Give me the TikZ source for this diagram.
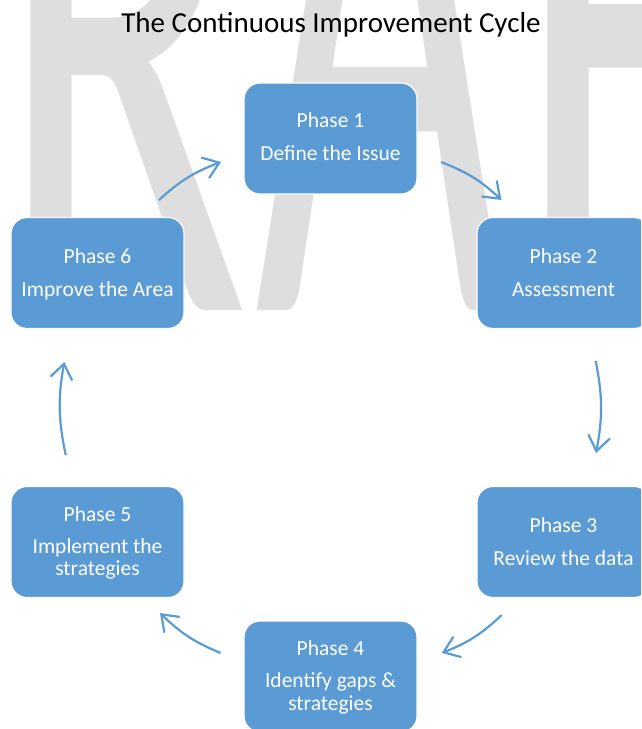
\documentclass[tikz,border=0pt]{standalone}
\usepackage{fontspec}
\setmainfont{Carlito}
\usepackage{graphicx}
\usetikzlibrary{arrows.meta}
\definecolor{boxblue}{HTML}{5B9BD5}
\definecolor{wmgray}{HTML}{DEDEDE}
\begin{document}
\begin{tikzpicture}[x=1pt,y=-1pt,
  phasebox/.style={draw=white, line width=1.2pt, fill=boxblue, rounded corners=16pt,
    minimum width=173pt, minimum height=111pt, inner sep=0pt, outer sep=0pt},
  lbl/.style={text=white, font=\fontsize{21.5}{22.5}\selectfont, anchor=base, inner sep=0pt},
  wmark/.style={anchor=base west, inner sep=0pt, text=wmgray, font=\fontsize{464}{464}\selectfont},
  flow/.style={draw=boxblue, line width=2.2pt, -{Straight Barb[length=15pt,width=22pt]}},
]
\useasboundingbox (0,0) rectangle (641,729);
\begin{scope}
\clip (0,0) rectangle (641,729);
% watermark
\node[wmark] (wmR) at (-3,310) {\scalebox{1}[1.9]{R}};
\node[wmark] (wmA) at (255,310) {\scalebox{0.93}[2.2]{A}};
\node[wmark] (wmF) at (516,310) {\scalebox{1}[1.9]{F}};
% boxes
\node[phasebox] (p1) at (330.5,138.5) {};
\node[phasebox] (p2) at (563.5,273) {};
\node[phasebox] (p3) at (563.5,542) {};
\node[phasebox] (p4) at (330.5,676.5) {};
\node[phasebox] (p5) at (97.5,542) {};
\node[phasebox] (p6) at (97.5,273) {};
\end{scope}
% labels
\node[lbl] (p1a) at (330.5,127.5) {Phase 1};
\node[lbl] (p1b) at (330.5,160.7) {Define the Issue};
\node[lbl] (p2a) at (563.5,263) {Phase 2};
\node[lbl] (p2b) at (563.5,296) {Assessment};
\node[lbl] (p3a) at (563.5,532.5) {Phase 3};
\node[lbl] (p3b) at (563.5,565) {Review the data};
\node[lbl] (p4a) at (330.5,655) {Phase 4};
\node[lbl] (p4b) at (330.5,687) {Identify gaps \&};
\node[lbl] (p4c) at (330.5,710) {strategies};
\node[lbl] (p5a) at (97.5,521) {Phase 5};
\node[lbl] (p5b) at (97.5,553) {Implement the};
\node[lbl] (p5c) at (97.5,575) {strategies};
\node[lbl] (p6a) at (97.5,263) {Phase 6};
\node[lbl] (p6b) at (97.5,296) {Improve the Area};
% title
\node[anchor=base, inner sep=0pt, font=\fontsize{29}{31}\selectfont] (title) at (331,32) {The Continuous Improvement Cycle};
% arrow end points
\coordinate (a1s) at (159,200);   \coordinate (a1e) at (221,162);
\coordinate (a2s) at (441,162);   \coordinate (a2e) at (501.5,200);
\coordinate (a3s) at (595.7,361); \coordinate (a3e) at (596,453);
\coordinate (a4s) at (501.7,615); \coordinate (a4e) at (441.7,653);
\coordinate (a5s) at (220.7,653); \coordinate (a5e) at (160,613);
\coordinate (a6s) at (65.7,455);  \coordinate (a6e) at (64.3,362);
\draw[flow] (a1s) to[bend left=11] (a1e);
\draw[flow] (a2s) to[bend left=11] (a2e);
\draw[flow] (a3s) to[bend left=11] (a3e);
\draw[flow] (a4s) to[bend left=11] (a4e);
\draw[flow] (a5s) to[bend left=11] (a5e);
\draw[flow] (a6s) to[bend left=11] (a6e);
\end{tikzpicture}
\end{document}
